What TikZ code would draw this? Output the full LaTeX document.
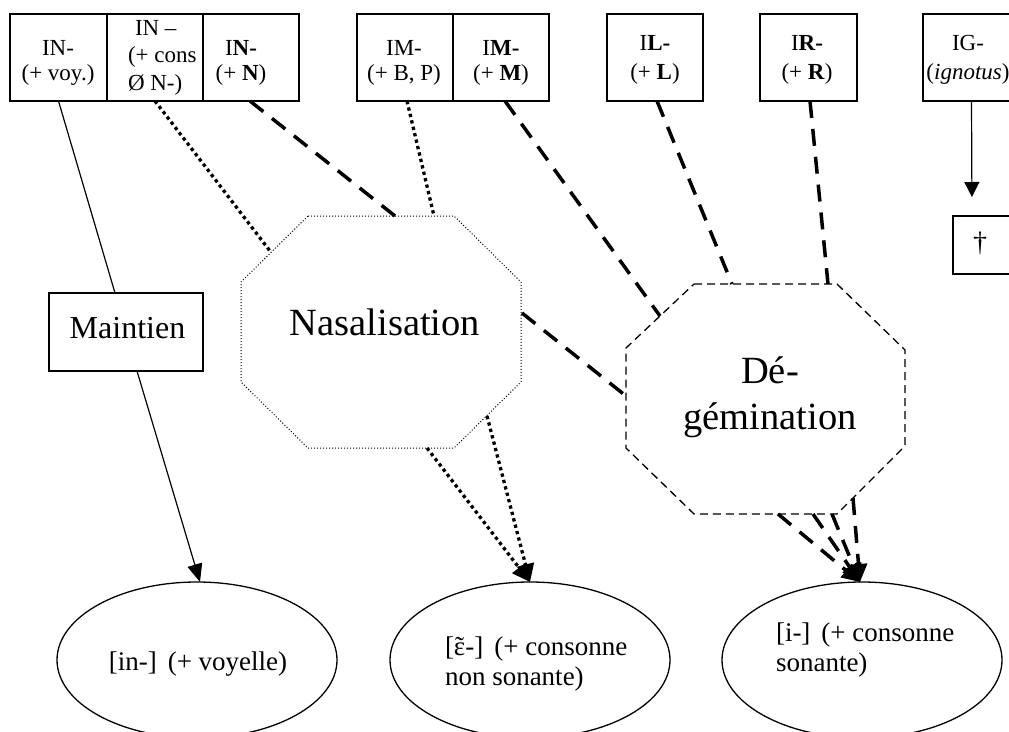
\documentclass[tikz,border=0pt]{standalone}
\usepackage{fontspec}
\setmainfont{Liberation Serif}
\usetikzlibrary{arrows.meta,shapes.geometric,calc}
\begin{document}
\begin{tikzpicture}[x=1pt,y=-1pt,
  every node/.style={inner sep=0pt, outer sep=0pt},
  box/.style={draw, line width=1.2pt, minimum width=96pt, minimum height=87pt},
  btxt/.style={font=\fontsize{23}{25}\selectfont, align=center, anchor=north},
  btxtb/.style={font=\fontsize{23}{29}\selectfont, align=center, anchor=north},
  plain/.style={line width=1.2pt},
  dotl/.style={line width=3.3pt, dash pattern=on 3.3pt off 3.3pt},
  dashl/.style={line width=3.5pt, dash pattern=on 17pt off 11pt},
  oval/.style={draw, ellipse, line width=1.3pt, minimum width=280pt, minimum height=156pt},
  etxt/.style={font=\fontsize{27}{30}\selectfont, align=left, anchor=north west},
  bigtxt/.style={font=\fontsize{38.5}{46}\selectfont},
  tip/.style={-{Triangle[width=17pt,length=18pt]}},
  nasline/.style={line width=1pt, dash pattern=on 1pt off 2pt},
  degline/.style={line width=1.3pt, dash pattern=on 8pt off 5pt},
]
\useasboundingbox (0,0) rectangle (1009,731);
\fill[white] (0,0) rectangle (1009,731);
\clip (0,0) rectangle (1009,731);

% top boxes
\node[box, minimum width=97pt] (b1) at (58.5,57.5) {};
\node[box] (b2) at (155,57.5) {};
\node[box] (b3) at (251,57.5) {};
\node[box] (b4) at (405,57.5) {};
\node[box] (b5) at (501,57.5) {};
\node[box] (b6) at (655,57.5) {};
\node[box, minimum width=97pt] (b7) at (808.5,57.5) {};
\node[box, minimum width=97pt] (b8) at (971.5,57.5) {};
\node[box, minimum width=60pt, minimum height=58pt] (dag) at (983,245) {};

\node[btxt] (t1) at (58,37.5) {\strut IN-\\(+ voy.)};
\node[font=\fontsize{23}{27.5}\selectfont, align=left, anchor=north west] (t2) at (128,15.75) {\strut\hspace{7pt}IN –\\(+ cons\\Ø N-)};
\node[btxt] (t3) at (241,37.5) {\strut I\textbf{N-}\\(+ \textbf{N})};
\node[btxt] (t4) at (404,37.5) {\strut IM-\\(+ B, P)};
\node[btxt] (t5) at (501,37.5) {\strut I\textbf{M-}\\(+ \textbf{M})};
\node[btxtb] (t6) at (655,29.7) {\strut I\textbf{L-}\\(+ \textbf{L})};
\node[btxtb] (t7) at (807,29.7) {\strut I\textbf{R-}\\(+ \textbf{R})};
\node[btxtb] (t8) at (968,29.7) {\strut IG-\\(\textit{ignotus})};
\node[font=\fontsize{28}{30}\selectfont] (dagt) at (980,243) {†};

% Maintien
\node[draw, line width=1.2pt, minimum width=154pt, minimum height=78pt] (mt) at (126,332) {};
\node[font=\fontsize{32}{38}\selectfont, anchor=base] (mtt) at (127.5,338) {Maintien};

% octagons
\node[minimum width=280pt, minimum height=232pt] (nas) at (381,332) {};
\draw[nasline] ($(nas.north west)+(67,0)$) -- ($(nas.north east)+(-67,0)$) -- ($(nas.north east)+(0,66)$)
  -- ($(nas.south east)+(0,-66)$) -- ($(nas.south east)+(-67,0)$) -- ($(nas.south west)+(67,0)$)
  -- ($(nas.south west)+(0,-66)$) -- ($(nas.north west)+(0,66)$) -- cycle;
\node[bigtxt, anchor=base] (nast) at (385,335) {Nasalisation};

\node[minimum width=279pt, minimum height=230pt] (deg) at (765.5,399) {};
\draw[degline] ($(deg.north west)+(68,0)$) -- ($(deg.north east)+(-68,0)$) -- ($(deg.north east)+(0,66)$)
  -- ($(deg.south east)+(0,-68)$) -- ($(deg.south east)+(-68,0)$) -- ($(deg.south west)+(68,0)$)
  -- ($(deg.south west)+(0,-66)$) -- ($(deg.north west)+(0,64)$) -- cycle;
\node[bigtxt, align=center, anchor=north] (degt) at (770,350.8) {\strut Dé-\\gémination};

% ellipses
\node[oval] (e1) at (197,660) {};
\node[oval] (e2) at (530,660) {};
\node[oval] (e3) at (862,660) {};
\node[font=\fontsize{27}{29}\selectfont, anchor=base] (e1t) at (198,670) {[in-]\hspace{11pt}(+ voyelle)};
\node[etxt] (e2t) at (445,634) {\strut[\ooalign{ε\cr\hidewidth ˜\hidewidth\cr}-]\hspace{11pt}(+ consonne\\non sonante)};
\node[etxt] (e3t) at (776,620) {\strut[i-]\hspace{11pt}(+ consonne\\sonante)};

% boundary points
\coordinate (nasUL) at (270,251);
\coordinate (nasLR) at (487,416);
\coordinate (degUL) at (660,316);
\coordinate (degL) at (626,396);
\coordinate (degLR) at (853,498);

% connectors
\draw[plain] ($(b1.south)+(0,0)$) -- ($(mt.north)+(-11,0)$);
\draw[plain, -{Triangle[width=15pt,length=18pt]}] ($(mt.south)+(11,0)$) -- ($(e1.north)+(3,0)$);
\draw[dotl] (b2.south) -- (nasUL);
\draw[dashl] ($(b3.south)+(-1,0)$) -- ($(nas.north)+(14,0)$);
\draw[dotl] ($(b4.south)+(2,0)$) -- ($(nas.north)+(53,0)$);
\draw[dashl] ($(b5.south)+(4,0)$) -- (degUL);
\draw[dashl] ($(b6.south)+(2,0)$) -- ($(deg.north)+(-33.5,0)$);
\draw[dashl] ($(b7.south)+(1.5,0)$) -- ($(deg.north)+(62.5,0)$);
\draw[dashl] ($(nas.east)+(1,-19)$) -- (degL);
\draw[dotl, tip] ($(nas.south)+(46,0)$) -- (e2.north);
\draw[dotl, tip] (nasLR) -- (e2.north);
\draw[dashl, tip] ($(deg.south)+(12.5,0)$) -- ($(e3.north)+(-2,0)$);
\draw[dashl, tip] ($(deg.south)+(47.5,0)$) -- ($(e3.north)+(-2,0)$);
\draw[dashl, tip] ($(deg.south)+(66.5,0)$) -- ($(e3.north)+(-2,0)$);
\draw[dashl, tip] (degLR) -- ($(e3.north)+(-2,0)$);
\draw[plain, -{Triangle[width=15pt,length=15pt]}, shorten >=19pt] (b8.south) -- ($(dag.north)+(-11,0)$);
\end{tikzpicture}
\end{document}
